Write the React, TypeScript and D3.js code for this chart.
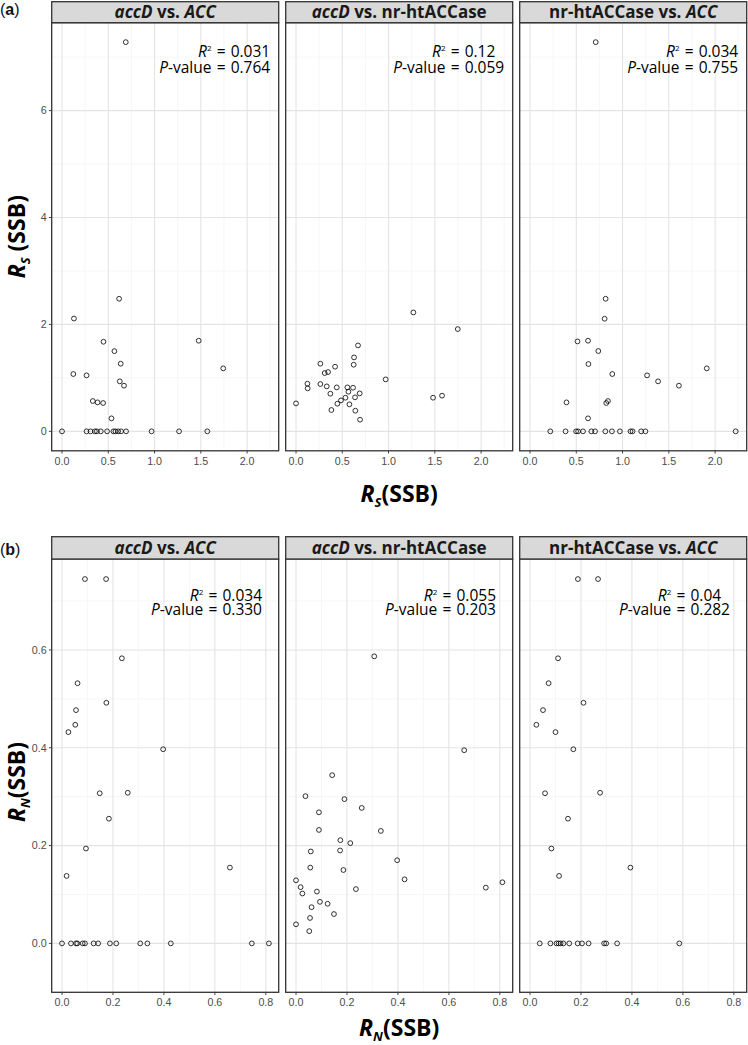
import React from "react";
import * as d3 from "d3";

const W = 748;
const H = 1045;

// ---------- (a) R_S data ----------
const rsAccdAccX = [0.617, 0.129, 0.448, 1.477, 0.566, 0.634, 1.742, 0.122, 0.265, 0.624, 0.67, 0.333, 0.384, 0.444, 0.534, 0.689,
  0.0, 0.265, 0.308, 0.355, 0.376, 0.419, 0.487, 0.556, 0.577, 0.606, 0.638, 0.692, 0.968, 1.265, 1.57];
const rsAccdAccY = [2.48, 2.11, 1.676, 1.695, 1.5, 1.265, 1.178, 1.072, 1.047, 0.935, 0.854, 0.567, 0.542, 0.53, 0.243, 7.28,
  0, 0, 0, 0, 0, 0, 0, 0, 0, 0, 0, 0, 0, 0, 0];

const rsAccdNrX = [1.268, 1.748, 0.67, 0.627, 0.263, 0.422, 0.623, 0.346, 0.31, 0.969, 0.123, 0.126, 0.263, 0.332, 0.44, 0.555,
  0.616, 0.566, 0.371, 0.688, 0.534, 0.638, 1.481, 1.578, 0.486, 0.447, 0.577, 0.0, 0.382, 0.641, 0.692];
const rsAccdNrY = [2.224, 1.913, 1.607, 1.383, 1.265, 1.209, 1.246, 1.109, 1.09, 0.972, 0.891, 0.804, 0.885, 0.841, 0.822, 0.822,
  0.816, 0.741, 0.704, 0.71, 0.629, 0.636, 0.629, 0.667, 0.579, 0.517, 0.505, 0.523, 0.399, 0.386, 0.218];

const rsNrAccX = [0.817, 0.806, 0.513, 0.627, 0.738, 0.631, 1.91, 0.889, 1.265, 1.384, 1.609, 0.394, 0.842, 0.824, 0.627, 0.71,
  0.219, 0.384, 0.498, 0.52, 0.573, 0.663, 0.703, 0.814, 0.885, 0.971, 1.086, 1.108, 1.201, 1.247, 2.222];
const rsNrAccY = [2.48, 2.106, 1.682, 1.695, 1.502, 1.259, 1.178, 1.072, 1.047, 0.935, 0.854, 0.542, 0.567, 0.53, 0.243, 7.28,
  0, 0, 0, 0, 0, 0, 0, 0, 0, 0, 0, 0, 0, 0, 0];

// ---------- (b) R_N data ----------
const rnAccdAccX = [0.235, 0.061, 0.174, 0.055, 0.052, 0.025, 0.397, 0.148, 0.258, 0.184, 0.094, 0.018, 0.659, 0.09, 0.173,
  0.0, 0.035, 0.055, 0.06, 0.081, 0.09, 0.124, 0.142, 0.188, 0.213, 0.307, 0.335, 0.427, 0.745, 0.812];
const rnAccdAccY = [0.583, 0.532, 0.492, 0.477, 0.447, 0.432, 0.397, 0.307, 0.308, 0.255, 0.194, 0.138, 0.155, 0.745, 0.745,
  0, 0, 0, 0, 0, 0, 0, 0, 0, 0, 0, 0, 0, 0, 0];

const rnAccdNrX = [0.307, 0.66, 0.142, 0.037, 0.19, 0.258, 0.09, 0.09, 0.333, 0.174, 0.213, 0.058, 0.173, 0.397, 0.056, 0.186,
  0.0, 0.426, 0.018, 0.235, 0.745, 0.025, 0.082, 0.094, 0.124, 0.061, 0.149, 0.055, 0.0, 0.052, 0.81];
const rnAccdNrY = [0.587, 0.395, 0.344, 0.301, 0.295, 0.277, 0.268, 0.232, 0.23, 0.211, 0.205, 0.188, 0.19, 0.17, 0.155, 0.15,
  0.129, 0.131, 0.115, 0.111, 0.114, 0.102, 0.106, 0.085, 0.081, 0.074, 0.06, 0.052, 0.039, 0.025, 0.125];

const rnNrAccX = [0.11, 0.073, 0.21, 0.051, 0.025, 0.1, 0.17, 0.059, 0.275, 0.149, 0.084, 0.114, 0.394, 0.188, 0.267,
  0.038, 0.08, 0.104, 0.112, 0.12, 0.131, 0.154, 0.187, 0.204, 0.23, 0.291, 0.299, 0.342, 0.586];
const rnNrAccY = [0.583, 0.532, 0.492, 0.477, 0.447, 0.432, 0.397, 0.307, 0.308, 0.255, 0.194, 0.138, 0.155, 0.745, 0.745,
  0, 0, 0, 0, 0, 0, 0, 0, 0, 0, 0, 0, 0, 0];

// ---------- stats ----------
const rsR2 = ["0.031", "0.12", "0.034"];
const rsP = ["0.764", "0.059", "0.755"];
const rnR2 = ["0.034", "0.055", "0.04"];
const rnP = ["0.330", "0.203", "0.282"];

// ---------- ticks ----------
const rsXTicks = [0, 0.5, 1.0, 1.5, 2.0];
const rsXMinor = [0.25, 0.75, 1.25, 1.75, 2.25];
const rsYTicks = [0, 2, 4, 6];
const rsYMinor = [1, 3, 5, 7];
const rnXTicks = [0, 0.2, 0.4, 0.6, 0.8];
const rnXMinor = [0.1, 0.3, 0.5, 0.7];
const rnYTicks = [0, 0.2, 0.4, 0.6];
const rnYMinor = [-0.1, 0.1, 0.3, 0.5, 0.7];

type Seg = { t: string; i?: boolean };
const facetTitles: Seg[][] = [
  [{ t: "accD", i: true }, { t: " vs. " }, { t: "ACC", i: true }],
  [{ t: "accD", i: true }, { t: " vs. nr-htACCase" }],
  [{ t: "nr-htACCase vs. " }, { t: "ACC", i: true }],
];

const PANEL_LEFT0 = 51.7;
const PANEL_W = 227;
const PANEL_STEP = 234;

const MAIN_FONT = "'Open Sans', 'Noto Sans', sans-serif";
const TICK_FONT = "'Liberation Sans', Arial, sans-serif";
const SP = "\u2004";

interface RowProps {
  label: string;
  labelY: number;
  stripTop: number;
  stripBottom: number;
  plotBottom: number;
  xDom: [number, number];
  yDom: [number, number];
  xTicks: number[];
  xMinor: number[];
  yTicks: number[];
  yMinor: number[];
  xFmt: (v: number) => string;
  yFmt: (v: number) => string;
  xs: number[][];
  ys: number[][];
  r2: string[];
  p: string[];
  annX: number;
  annR2Y: number;
  annPY: number;
  sub: string;
  xTitleY: number;
  yTitleCenter: number;
  yTitleSpace: boolean;
}

function AxisTitle({ sub, space }: { sub: string; space: boolean }) {
  return (
    <>
      <tspan fontStyle="italic">R</tspan>
      <tspan fontStyle="italic" fontSize="13" dy="5">{sub}</tspan>
      <tspan dy="-5">{space ? " (SSB)" : "(SSB)"}</tspan>
    </>
  );
}

function Row(props: RowProps) {
  const {
    label, labelY, stripTop, stripBottom, plotBottom, xDom, yDom, xTicks, xMinor, yTicks, yMinor,
    xFmt, yFmt, xs, ys, r2, p, annX, annR2Y, annPY, sub, xTitleY, yTitleCenter, yTitleSpace,
  } = props;
  const plotTop = stripBottom;
  const y = d3.scaleLinear().domain(yDom).range([plotBottom, plotTop]);
  const stripMid = (stripTop + stripBottom) / 2;
  const centerX = PANEL_LEFT0 + PANEL_STEP + PANEL_W / 2;
  return (
    <g>
      <text x={0} y={labelY} fontFamily={TICK_FONT} fontSize={16} fill="#111">
        (<tspan fontWeight="bold">{label}</tspan>)
      </text>
      {[0, 1, 2].map((i) => {
        const left = PANEL_LEFT0 + i * PANEL_STEP;
        const right = left + PANEL_W;
        const x = d3.scaleLinear().domain(xDom).range([left, right]);
        const pad = Math.max(0, p[i].length - r2[i].length);
        return (
          <g key={i}>
            <rect x={left} y={plotTop} width={PANEL_W} height={plotBottom - plotTop} fill="#fff" />
            {xMinor.filter((v) => v > xDom[0] && v < xDom[1]).map((v) => (
              <line key={"xm" + v} x1={x(v)} x2={x(v)} y1={plotTop} y2={plotBottom} stroke="#f2f2f2" strokeWidth={0.7} />
            ))}
            {yMinor.filter((v) => v > yDom[0] && v < yDom[1]).map((v) => (
              <line key={"ym" + v} x1={left} x2={right} y1={y(v)} y2={y(v)} stroke="#f2f2f2" strokeWidth={0.7} />
            ))}
            {xTicks.map((v) => (
              <line key={"xg" + v} x1={x(v)} x2={x(v)} y1={plotTop} y2={plotBottom} stroke="#e4e4e4" strokeWidth={1.1} />
            ))}
            {yTicks.map((v) => (
              <line key={"yg" + v} x1={left} x2={right} y1={y(v)} y2={y(v)} stroke="#e4e4e4" strokeWidth={1.1} />
            ))}
            {xs[i].map((xv, j) => (
              <circle key={"pt" + j} cx={x(xv)} cy={y(ys[i][j])} r={2.4} fill="none" stroke="#000" strokeWidth={0.8} />
            ))}
            <text x={x(annX)} y={y(annR2Y)} textAnchor="end" fontFamily={MAIN_FONT} fontSize={15.5} fill="#000" xmlSpace="preserve">
              <tspan fontStyle="italic">R</tspan>
              <tspan fontSize={8} dy={-6}>2</tspan>
              <tspan dy={6}>{SP + "=" + SP + r2[i]}</tspan>
              {pad > 0 ? <tspan fillOpacity={0}>{"0".repeat(pad)}</tspan> : null}
            </text>
            <text x={x(annX)} y={y(annPY)} textAnchor="end" fontFamily={MAIN_FONT} fontSize={15.5} fill="#000" xmlSpace="preserve">
              <tspan fontStyle="italic">P</tspan>
              <tspan>{"-value" + SP + "=" + SP + p[i]}</tspan>
            </text>
            <rect x={left} y={plotTop} width={PANEL_W} height={plotBottom - plotTop} fill="none" stroke="#333" strokeWidth={1.3} />
            <rect x={left} y={stripTop} width={PANEL_W} height={stripBottom - stripTop} fill="#d9d9d9" stroke="#333" strokeWidth={1.3} />
            <text x={(left + right) / 2} y={stripMid + 6} textAnchor="middle" fontFamily={MAIN_FONT} fontWeight="bold" fontSize={17} fill="#1a1a1a" xmlSpace="preserve">
              {facetTitles[i].map((s, k) => (
                <tspan key={k} fontStyle={s.i ? "italic" : "normal"}>{s.t}</tspan>
              ))}
            </text>
            {xTicks.map((v) => (
              <g key={"xt" + v}>
                <line x1={x(v)} x2={x(v)} y1={plotBottom} y2={plotBottom + 2.8} stroke="#333" strokeWidth={0.9} />
                <text x={x(v)} y={plotBottom + 14} textAnchor="middle" fontFamily={TICK_FONT} fontSize={10.7} fill="#4d4d4d">
                  {xFmt(v)}
                </text>
              </g>
            ))}
            {i === 0
              ? yTicks.map((v) => (
                  <g key={"yt" + v}>
                    <line x1={left - 2.8} x2={left} y1={y(v)} y2={y(v)} stroke="#333" strokeWidth={0.9} />
                    <text x={left - 5} y={y(v) + 3.8} textAnchor="end" fontFamily={TICK_FONT} fontSize={10.7} fill="#4d4d4d">
                      {yFmt(v)}
                    </text>
                  </g>
                ))
              : null}
          </g>
        );
      })}
      <text x={centerX} y={xTitleY} textAnchor="middle" fontFamily={MAIN_FONT} fontWeight="bold" fontSize={23} fill="#000" xmlSpace="preserve">
        <AxisTitle sub={sub} space={false} />
      </text>
      <text transform={`translate(${25},${yTitleCenter}) rotate(-90)`} textAnchor="middle" fontFamily={MAIN_FONT} fontWeight="bold" fontSize={23} fill="#000" xmlSpace="preserve">
        <AxisTitle sub={sub} space={yTitleSpace} />
      </text>
    </g>
  );
}

export default function App() {
  const fmt1 = d3.format(".1f");
  const fmt0 = d3.format("d");
  return (
    <svg width={W} height={H} viewBox={`0 0 ${W} ${H}`} style={{ position: "absolute", left: 0, top: 0, background: "#fff" }}>
      <rect x={0} y={0} width={W} height={H} fill="#fff" />
      <Row
        label="a"
        labelY={15}
        stripTop={1.7}
        stripBottom={22.7}
        plotBottom={450.8}
        xDom={[-0.1115, 2.3415]}
        yDom={[-0.364, 7.644]}
        xTicks={rsXTicks}
        xMinor={rsXMinor}
        yTicks={rsYTicks}
        yMinor={rsYMinor}
        xFmt={fmt1}
        yFmt={fmt0}
        xs={[rsAccdAccX, rsAccdNrX, rsNrAccX]}
        ys={[rsAccdAccY, rsAccdNrY, rsNrAccY]}
        r2={rsR2}
        p={rsP}
        annX={2.25}
        annR2Y={7.0}
        annPY={6.7}
        sub="S"
        xTitleY={502}
        yTitleCenter={236.7}
        yTitleSpace={true}
      />
      <Row
        label="b"
        labelY={555}
        stripTop={536.7}
        stripBottom={559}
        plotBottom={992.3}
        xDom={[-0.0405, 0.8505]}
        yDom={[-0.1, 0.786]}
        xTicks={rnXTicks}
        xMinor={rnXMinor}
        yTicks={rnYTicks}
        yMinor={rnYMinor}
        xFmt={fmt1}
        yFmt={fmt1}
        xs={[rnAccdAccX, rnAccdNrX, rnNrAccX]}
        ys={[rnAccdAccY, rnAccdNrY, rnNrAccY]}
        r2={rnR2}
        p={rnP}
        annX={0.785}
        annR2Y={0.701}
        annPY={0.671}
        sub="N"
        xTitleY={1036}
        yTitleCenter={782}
        yTitleSpace={false}
      />
    </svg>
  );
}
